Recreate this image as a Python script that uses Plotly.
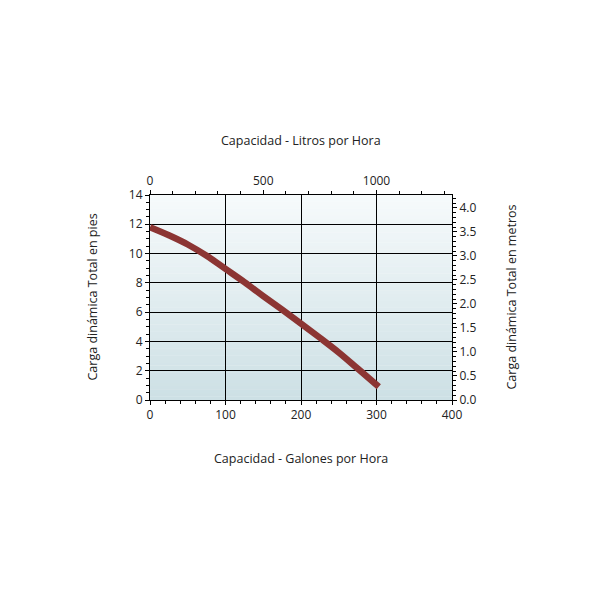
import plotly.graph_objects as go

# Data
gallons = [0, 25, 50, 75, 100, 125, 150, 175, 200, 225, 250, 275, 303]
head_ft = [11.8, 11.25, 10.62, 9.85, 8.95, 8.05, 7.1, 6.17, 5.22, 4.25, 3.25, 2.15, 0.9]

x_ticks = [0, 100, 200, 300, 400]
top_ticks = [0, 500, 1000]
left_ticks = [0, 2, 4, 6, 8, 10, 12, 14]
right_ticks = [0.0, 0.5, 1.0, 1.5, 2.0, 2.5, 3.0, 3.5, 4.0]

FT_PER_M = 3.28084
LEFT_MAX = 14
X_MAX = 400
TOP_MAX = 1000 * X_MAX / 300  # top scale drawn as in reference

fig = go.Figure()
fig.add_trace(go.Scatter(
    x=gallons, y=head_ft, mode="lines",
    line=dict(color="#8c3533", width=6.5, shape="spline", smoothing=1.0),
    showlegend=False, hoverinfo="skip"))
# dummy traces to activate secondary axes
fig.add_trace(go.Scatter(x=[None], y=[None], xaxis="x2", yaxis="y", showlegend=False))
fig.add_trace(go.Scatter(x=[None], y=[None], xaxis="x", yaxis="y2", showlegend=False))

# vertical gradient background
n = 60
top_c = (246, 250, 251)
bot_c = (205, 224, 229)
shapes = []
for i in range(n):
    t = i / (n - 1)
    c = tuple(round(bot_c[k] + (top_c[k] - bot_c[k]) * t) for k in range(3))
    shapes.append(dict(type="rect", xref="x domain", yref="y domain",
                       x0=0, x1=1, y0=i / n, y1=(i + 1) / n + 0.002,
                       fillcolor="rgb(%d,%d,%d)" % c, line=dict(width=0),
                       layer="below"))

font = dict(family="Open Sans, Noto Sans, sans-serif", size=12.5, color="#222")
tfont = dict(family="Open Sans, Noto Sans, sans-serif", size=12, color="#222")
axis_common = dict(showline=True, linecolor="#000", linewidth=1, mirror=False,
                   ticks="outside", ticklen=4, tickcolor="#000",
                   tickfont=tfont, zeroline=False)

fig.update_layout(
    width=600, height=600,
    margin=dict(l=142, r=156, t=187, b=208),
    paper_bgcolor="white", plot_bgcolor="rgba(0,0,0,0)",
    shapes=shapes,
    xaxis=dict(range=[0, X_MAX], tickvals=x_ticks, showgrid=True,
               gridcolor="#000", gridwidth=1.2,
               minor=dict(dtick=20, ticks="outside", ticklen=3, tickcolor="#000", showgrid=False),
               **axis_common),
    xaxis2=dict(range=[0, TOP_MAX], tickvals=top_ticks, overlaying="x",
                side="top", anchor="y", showgrid=False,
                minor=dict(dtick=100, ticks="outside", ticklen=3, tickcolor="#000", showgrid=False),
                **axis_common),
    yaxis=dict(range=[0, LEFT_MAX], tickvals=left_ticks, showgrid=True,
               gridcolor="#000", gridwidth=1.2,
               minor=dict(dtick=0.5, ticks="outside", ticklen=3, tickcolor="#000", showgrid=False),
               **axis_common),
    yaxis2=dict(range=[0, LEFT_MAX / FT_PER_M], tickvals=right_ticks,
                tickformat=".1f", overlaying="y", side="right", anchor="x",
                showgrid=False,
                minor=dict(dtick=0.1, ticks="outside", ticklen=3, tickcolor="#000", showgrid=False),
                **axis_common),
    annotations=[
        dict(text="Capacidad - Litros por Hora", xref="paper", yref="paper",
             x=0.5, y=1.0, yanchor="middle", xanchor="center", yshift=55,
             showarrow=False, font=font),
        dict(text="Capacidad - Galones por Hora", xref="paper", yref="paper",
             x=0.5, y=0.0, yanchor="middle", xanchor="center", yshift=-58,
             showarrow=False, font=font),
        dict(text="Carga dinámica Total en pies", xref="paper", yref="paper",
             x=0.0, y=0.5, xanchor="center", yanchor="middle", xshift=-58,
             textangle=-90, showarrow=False, font=font),
        dict(text="Carga dinámica Total en metros", xref="paper", yref="paper",
             x=1.0, y=0.5, xanchor="center", yanchor="middle", xshift=59,
             textangle=-90, showarrow=False, font=font),
    ],
)

fig.write_html("out.html")
